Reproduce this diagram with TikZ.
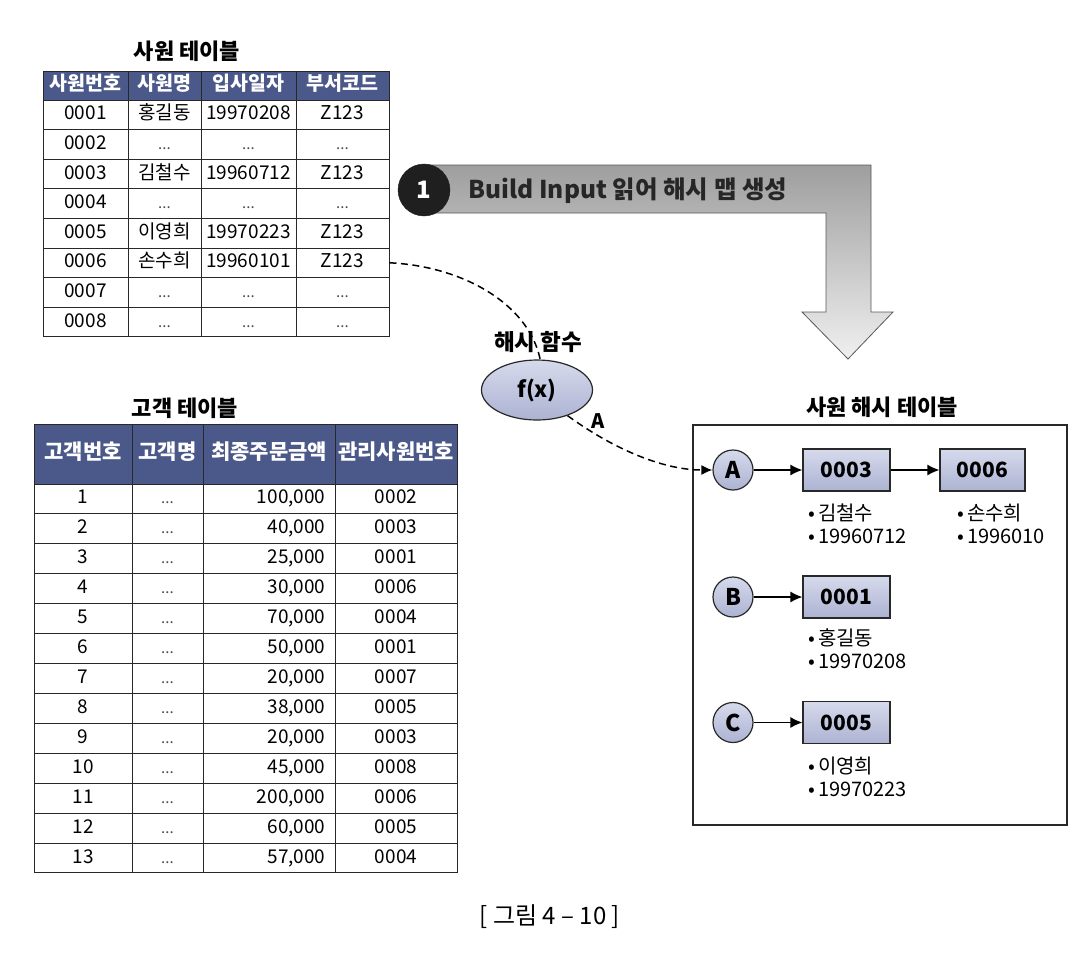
\documentclass[tikz,border=0pt]{standalone}
\usepackage{fontspec}
\setmainfont{Noto Sans CJK KR}
\usetikzlibrary{arrows.meta,shapes.geometric}
\definecolor{hdr}{RGB}{74,88,138}
\definecolor{lavtop}{RGB}{214,218,236}
\definecolor{lavbot}{RGB}{172,179,210}
\definecolor{linegray}{RGB}{40,40,40}
\newcommand\dotsx{{\fontsize{15}{15}\selectfont\color{black!70}...}}
\begin{document}
\begin{tikzpicture}[x=1pt,y=-1pt,
  cell/.style={draw=linegray, line width=1pt, inner sep=0pt, anchor=center,
    font=\fontsize{19}{21}\selectfont, text height=14pt, text depth=4pt},
  headcell/.style={cell, fill=hdr, text=white, font=\fontsize{21}{23}\selectfont\bfseries},
  empheadcell/.style={headcell, font=\fontsize{19.5}{21}\selectfont\bfseries},
  ttl/.style={font=\fontsize{22}{24}\selectfont\bfseries, inner sep=0pt},
  lav/.style={draw=linegray, line width=1.2pt, top color=lavtop, bottom color=lavbot},
  keycirc/.style={lav, circle, minimum size=40pt, inner sep=0pt, font=\fontsize{23}{23}\selectfont\bfseries},
  recbox/.style={lav, rectangle, minimum height=42pt, inner sep=0pt, font=\fontsize{21}{21}\selectfont\bfseries},
  bul/.style={anchor=west, align=left, inner sep=0pt, font=\fontsize{20}{23}\selectfont},
  arr/.style={line width=1.3pt, -{Latex[length=12pt,width=11pt]}},
  dsh/.style={line width=1.5pt, dash pattern=on 7pt off 4.5pt}
]
\useasboundingbox (0,0) rectangle (1090,954);
\fill[white] (0,0) rectangle (1090,954);

% ---------- employee table ----------
\node[ttl] (empttl) at (187,51) {사원 테이블};
\node[empheadcell, minimum width=85pt, minimum height=29pt] (emp-h1) at (85.5,85.5) {사원번호};
\node[empheadcell, minimum width=73pt, minimum height=29pt] (emp-h2) at (164.5,85.5) {사원명};
\node[empheadcell, minimum width=95pt, minimum height=29pt] (emp-h3) at (248.5,85.5) {입사일자};
\node[empheadcell, minimum width=93pt, minimum height=29pt] (emp-h4) at (342.5,85.5) {부서코드};
\foreach \a/\b/\c/\d [count=\r] in {
  0001/홍길동/19970208/Z123,
  0002/\dotsx/\dotsx/\dotsx,
  0003/김철수/19960712/Z123,
  0004/\dotsx/\dotsx/\dotsx,
  0005/이영희/19970223/Z123,
  0006/손수희/19960101/Z123,
  0007/\dotsx/\dotsx/\dotsx,
  0008/\dotsx/\dotsx/\dotsx}{
  \node[cell, minimum width=85pt, minimum height=29.6pt] (emp-\r-1) at ({85.5},{100+(\r-0.5)*29.6}) {\a};
  \node[cell, minimum width=73pt, minimum height=29.6pt] (emp-\r-2) at ({164.5},{100+(\r-0.5)*29.6}) {\b};
  \node[cell, minimum width=95pt, minimum height=29.6pt] (emp-\r-3) at ({248.5},{100+(\r-0.5)*29.6}) {\c};
  \node[cell, minimum width=93pt, minimum height=29.6pt] (emp-\r-4) at ({342.5},{100+(\r-0.5)*29.6}) {\d};
}

% ---------- customer table ----------
\node[ttl] (custtl) at (185,408) {고객 테이블};
\node[headcell, minimum width=98pt, minimum height=60pt] (cus-h1) at (83,454) {고객번호};
\node[headcell, minimum width=71pt, minimum height=60pt] (cus-h2) at (167.5,454) {고객명};
\node[headcell, minimum width=132pt, minimum height=60pt] (cus-h3) at (269,454) {최종주문금액};
\node[headcell, minimum width=122pt, minimum height=60pt] (cus-h4) at (396,454) {관리사원번호};
\foreach \a/\c/\d [count=\r] in {
  1/{100,000}/0002, 2/{40,000}/0003, 3/{25,000}/0001, 4/{30,000}/0006,
  5/{70,000}/0004, 6/{50,000}/0001, 7/{20,000}/0007, 8/{38,000}/0005,
  9/{20,000}/0003, 10/{45,000}/0008, 11/{200,000}/0006, 12/{60,000}/0005,
  13/{57,000}/0004}{
  \node[cell, minimum width=98pt, minimum height=29.92pt] (cus-\r-1) at ({83},{484+(\r-0.5)*29.92}) {\a};
  \node[cell, minimum width=71pt, minimum height=29.92pt] (cus-\r-2) at ({167.5},{484+(\r-0.5)*29.92}) {\dotsx};
  \node[cell, minimum width=132pt, minimum height=29.92pt, text width=113pt, align=right] (cus-\r-3) at ({269},{484+(\r-0.5)*29.92}) {\c};
  \node[cell, minimum width=122pt, minimum height=29.92pt] (cus-\r-4) at ({396},{484+(\r-0.5)*29.92}) {\d};
}

% ---------- big bent arrow ----------
\shade[top color=black!38, bottom color=black!6, draw=black!65, line width=0.8pt]
  (424,165) -- (871,165) -- (871,312) -- (893,312) -- (848,359) -- (802,312)
  -- (826,312) -- (826,213) -- (424,213) -- cycle;
\node[circle, fill=black!88, draw=black!88, minimum size=52pt, inner sep=0pt,
  text=white, font=\fontsize{24}{24}\selectfont\bfseries] (step1) at (424,190) {1};
\node[inner sep=0pt, font=\fontsize{24.5}{25}\selectfont\bfseries, text=black!85] (steptxt) at (628,191) {Build Input 읽어 해시 맵 생성};

% ---------- hash table ----------
\node[ttl] (hashttl) at (882,407) {사원 해시 테이블};
\node[draw=linegray, line width=2.4pt, minimum width=374pt, minimum height=400pt, inner sep=0pt] (htab) at (880,625) {};

\node[keycirc] (hA) at (733,470) {A};
\node[keycirc] (hB) at (733,597) {B};
\node[keycirc] (hC) at (733,722.5) {C};
\node[recbox, minimum width=87pt] (b3) at (846.5,470) {0003};
\node[recbox, minimum width=85pt] (b6) at (982.5,470) {0006};
\node[recbox, minimum width=87pt] (b1) at (846.5,597) {0001};
\node[recbox, minimum width=87pt] (b5) at (846.5,722.5) {0005};
\draw[arr] (hA) -- (b3);
\draw[arr] (b3) -- (b6);
\draw[arr] (hB) -- (b1);
\draw[arr] (hC) -- (b5);

\node[bul] (t3) at (808,523.5) {•\hspace{3pt}김철수\\•\hspace{3pt}19960712};
\node[bul] (t6) at (957,523.5) {•\hspace{3pt}손수희\\•\hspace{3pt}1996010};
\node[bul] (t1) at (808,649) {•\hspace{3pt}홍길동\\•\hspace{3pt}19970208};
\node[bul] (t5) at (808,776.5) {•\hspace{3pt}이영희\\•\hspace{3pt}19970223};

% ---------- hash function ----------
\node[ellipse, lav, minimum width=111pt, minimum height=60pt, inner sep=0pt,
  font=\fontsize{22}{22}\selectfont\bfseries] (fx) at (537,390) {f(x)};
\draw[dsh] (emp-6-4.east) .. controls (460,266) and (528,302) .. (fx.84);
\node[ttl, font=\fontsize{22.5}{24}\selectfont\bfseries] (hlbl) at (538,342) {해시 함수};
\draw[dsh, -{Latex[length=11pt,width=10pt]}] (fx.-40) .. controls (612,448) and (662,470) .. (hA.west);
\node[ttl, font=\fontsize{20}{20}\selectfont\bfseries] (albl) at (598,421) {A};

% ---------- caption ----------
\node[inner sep=0pt, font=\fontsize{24}{24}\selectfont] (cap) at (550,917) {[ 그림 4 – 10 ]};
\end{tikzpicture}
\end{document}
